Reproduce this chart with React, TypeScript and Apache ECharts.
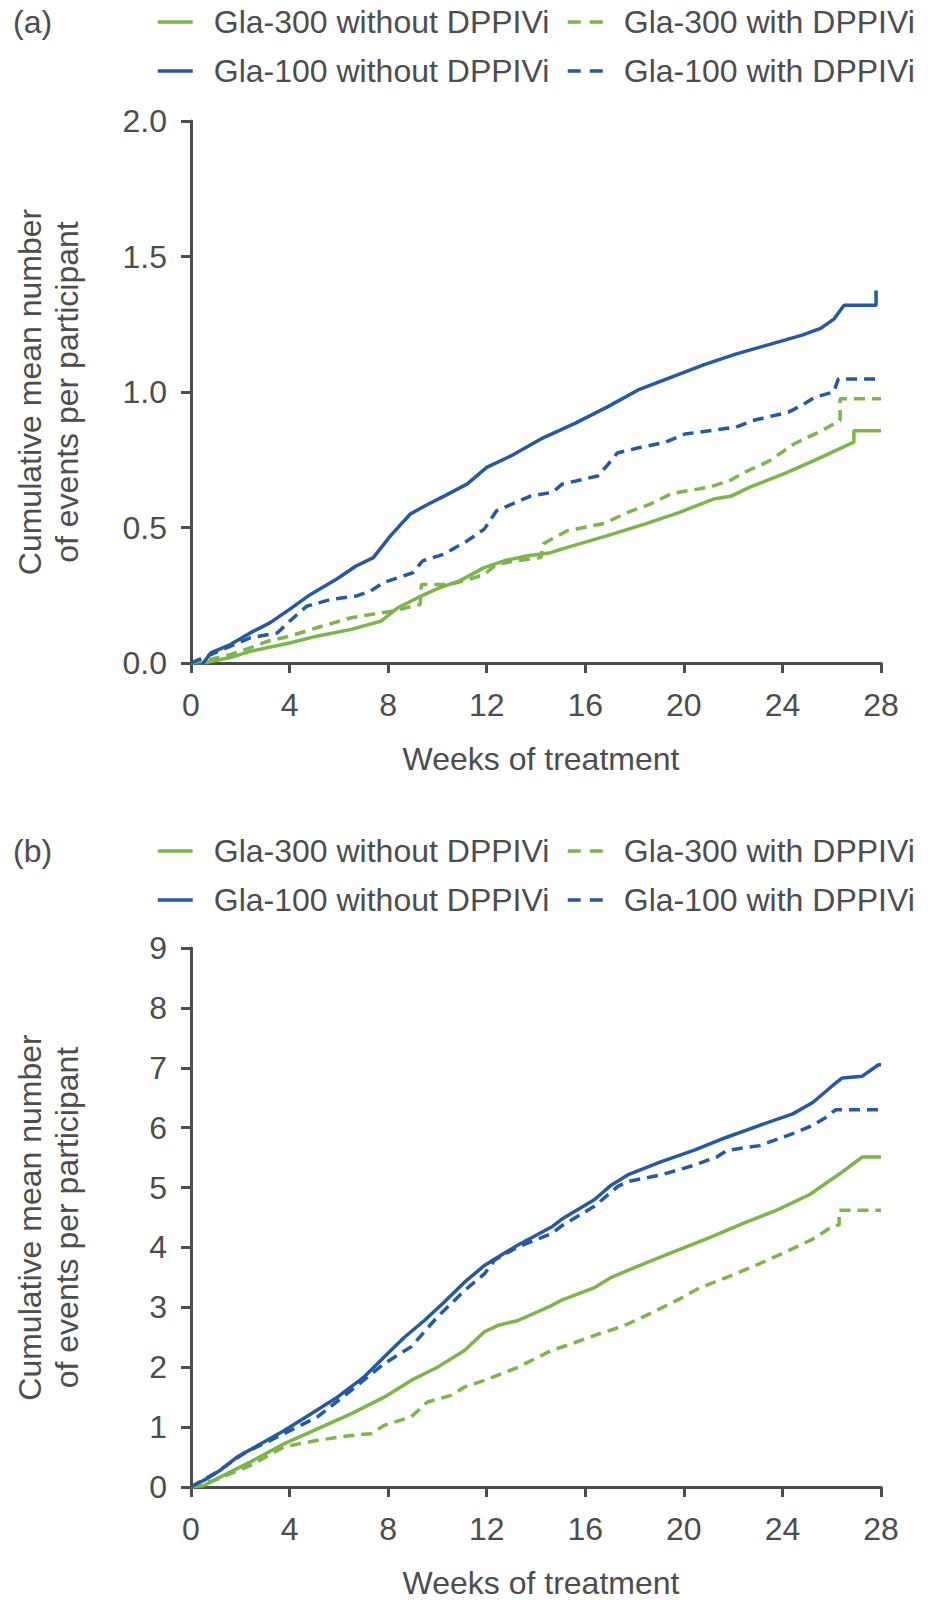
import React, { useEffect, useRef } from "react";
import * as echarts from "echarts";

// ---------- data ----------
const seriesNames = [
  "Gla-300 without DPPIVi",
  "Gla-300 with DPPIVi",
  "Gla-100 without DPPIVi",
  "Gla-100 with DPPIVi",
];

const weekTicks = [0, 4, 8, 12, 16, 20, 24, 28];
const yTicksA = [0, 0.5, 1.0, 1.5, 2.0];
const yTicksB = [0, 1, 2, 3, 4, 5, 6, 7, 8, 9];

// panel (a)
const aGla300Without: [number, number][] = [
  [0, 0], [0.5, 0], [1.6, 0.02], [2.4, 0.043], [4.0, 0.074], [5.1, 0.099], [6.5, 0.124],
  [7.7, 0.154], [8.4, 0.204], [9.2, 0.241], [10.1, 0.278], [10.9, 0.303], [11.9, 0.352],
  [12.7, 0.377], [13.6, 0.395], [14.6, 0.407], [15.2, 0.425], [16.9, 0.47], [18.5, 0.515],
  [19.8, 0.555], [21.2, 0.605], [21.9, 0.615], [22.7, 0.65], [24.1, 0.7], [25.3, 0.748],
  [26.9, 0.815], [26.9, 0.857], [28, 0.857],
];
const aGla300With: [number, number][] = [
  [0, 0], [0.4, 0.006], [1.6, 0.031], [2.4, 0.056], [3.1, 0.08], [4.0, 0.099], [5.1, 0.13],
  [6.5, 0.167], [7.3, 0.179], [8.1, 0.19], [9.3, 0.216], [9.35, 0.29], [10.5, 0.29],
  [11.3, 0.309], [11.9, 0.327], [12.4, 0.364], [13.2, 0.377], [14.2, 0.389], [14.3, 0.44],
  [15.26, 0.488], [16.77, 0.515], [17.7, 0.555], [18.6, 0.585], [19.5, 0.625], [21.08, 0.65],
  [21.9, 0.675], [22.5, 0.705], [23.45, 0.745], [24.1, 0.785], [24.5, 0.81], [25.55, 0.855],
  [26.34, 0.895], [26.34, 0.975], [28, 0.975],
];
const aGla100Without: [number, number][] = [
  [0, 0], [0.5, 0], [0.8, 0.037], [1.6, 0.068], [2.4, 0.111], [3.2, 0.148], [4.0, 0.198],
  [4.85, 0.253], [5.9, 0.309], [6.7, 0.358], [7.4, 0.389], [8.1, 0.47], [8.9, 0.55],
  [9.6, 0.585], [10.25, 0.615], [11.2, 0.66], [12.0, 0.722], [13.0, 0.765], [14.27, 0.83],
  [15.6, 0.885], [16.9, 0.945], [18.2, 1.01], [19.5, 1.055], [20.8, 1.1], [22.1, 1.14],
  [23.45, 1.175], [24.8, 1.21], [25.55, 1.235], [26.1, 1.27], [26.5, 1.32], [27.8, 1.32],
  [27.8, 1.375],
];
const aGla100With: [number, number][] = [
  [0, 0], [0.8, 0.031], [2.4, 0.093], [3.5, 0.111], [4.0, 0.154], [4.7, 0.21], [5.7, 0.235],
  [6.7, 0.247], [7.3, 0.266], [7.8, 0.296], [9.0, 0.333], [9.4, 0.377], [10.25, 0.401],
  [11.2, 0.45], [11.9, 0.494], [12.4, 0.562], [13.2, 0.593], [13.75, 0.615], [14.67, 0.63],
  [15.06, 0.66], [16.5, 0.69], [16.9, 0.73], [17.3, 0.775], [18.2, 0.795], [19.26, 0.815],
  [20.05, 0.845], [22.1, 0.87], [22.8, 0.895], [24.23, 0.925], [24.77, 0.95], [25.3, 0.98],
  [26.08, 1.0], [26.27, 1.048], [28, 1.048],
];

// panel (b)
const bGla300Without: [number, number][] = [
  [0, 0], [0.5, 0.02], [1.06, 0.14], [2.42, 0.42], [3.77, 0.72], [5.13, 0.97], [6.49, 1.22],
  [7.84, 1.5], [8.93, 1.78], [10.0, 2.0], [11.1, 2.28], [11.9, 2.59], [12.46, 2.7],
  [13.27, 2.78], [14.63, 3.03], [15.04, 3.12], [16.38, 3.33], [17.05, 3.5], [18.39, 3.73],
  [19.73, 3.95], [21.07, 4.17], [22.41, 4.4], [23.75, 4.62], [25.09, 4.88], [26.43, 5.26],
  [27.24, 5.51], [28, 5.51],
];
const bGla300With: [number, number][] = [
  [0, 0], [1.0, 0.12], [2.42, 0.36], [3.77, 0.67], [5.13, 0.78], [6.49, 0.86], [7.3, 0.89],
  [7.84, 1.03], [8.93, 1.17], [9.6, 1.42], [10.56, 1.53], [11.1, 1.67], [11.91, 1.78],
  [13.27, 2.0], [14.63, 2.28], [15.5, 2.4], [16.5, 2.55], [17.5, 2.68], [18.5, 2.87],
  [19.73, 3.12], [20.67, 3.33], [21.74, 3.5], [23.08, 3.73], [24.42, 3.98], [25.23, 4.14],
  [26.03, 4.35], [26.3, 4.38], [26.3, 4.62], [28, 4.62],
];
const bGla100Without: [number, number][] = [
  [0, 0], [0.65, 0.14], [1.19, 0.28], [1.87, 0.5], [2.69, 0.69], [3.77, 0.94], [4.86, 1.22],
  [5.94, 1.5], [7.03, 1.84], [7.84, 2.17], [8.66, 2.5], [9.47, 2.78], [10.28, 3.09],
  [11.1, 3.42], [11.91, 3.7], [12.46, 3.84], [13.27, 4.04], [14.63, 4.34], [15.04, 4.47],
  [16.38, 4.8], [17.05, 5.04], [17.72, 5.21], [19.06, 5.43], [20.4, 5.62], [21.74, 5.84],
  [23.08, 6.04], [24.42, 6.23], [25.23, 6.42], [26.03, 6.7], [26.43, 6.83], [27.24, 6.86],
  [27.9, 7.05], [28, 7.05],
];
const bGla100With: [number, number][] = [
  [0, 0], [1.06, 0.25], [2.14, 0.56], [3.77, 0.89], [5.13, 1.17], [6.49, 1.61], [7.84, 2.06],
  [8.93, 2.34], [10.0, 2.84], [11.1, 3.28], [11.91, 3.56], [12.32, 3.79], [13.27, 4.01],
  [14.63, 4.23], [15.04, 4.36], [16.38, 4.69], [17.32, 5.02], [17.72, 5.1], [19.06, 5.21],
  [20.4, 5.37], [21.34, 5.51], [21.74, 5.62], [23.08, 5.7], [24.42, 5.9], [25.23, 6.04],
  [25.76, 6.17], [26.17, 6.3], [28, 6.3],
];

// ---------- styles ----------
const GREEN = "#7ab648";
const BLUE = "#2359a5";
const TEXT = "#4d4d4d";
const FONT = "'Liberation Sans', Arial, sans-serif";
const DASH = [11, 7];
const LEGEND_DASH = [13, 9];
const FS = 32;

export default function App() {
  const ref = useRef<HTMLDivElement>(null);

  useEffect(() => {
    if (!ref.current) return;
    const chart = echarts.init(ref.current, null, { renderer: "svg" });

    const panels = [
      { data: [aGla300Without, aGla300With, aGla100Without, aGla100With], ticks: yTicksA },
      { data: [bGla300Without, bGla300With, bGla100Without, bGla100With], ticks: yTicksB },
    ];
    const colors = [GREEN, GREEN, BLUE, BLUE];
    const dashed = [false, true, false, true];

    const grids = [
      { left: 191, top: 121, width: 690, height: 542 },
      { left: 191, top: 948, width: 690, height: 540 },
    ];

    const axisLine = { show: true, lineStyle: { color: TEXT, width: 3 } };
    const axisTick = { show: true, length: 10, lineStyle: { color: TEXT, width: 3 } };

    const xAxis = grids.map((_, i) => ({
      type: "value",
      gridIndex: i,
      min: weekTicks[0],
      max: weekTicks[weekTicks.length - 1],
      interval: weekTicks[1] - weekTicks[0],
      axisLine,
      axisTick,
      splitLine: { show: false },
      axisLabel: { fontSize: FS, color: TEXT, fontFamily: FONT, margin: 26 },
      name: "Weeks of treatment",
      nameLocation: "middle",
      nameGap: 80,
      nameTextStyle: { fontSize: FS, color: TEXT, fontFamily: FONT, padding: [0, 0, 0, 10] },
    }));

    const yAxis = panels.map((p, i) => ({
      type: "value",
      gridIndex: i,
      min: p.ticks[0],
      max: p.ticks[p.ticks.length - 1],
      interval: p.ticks[1] - p.ticks[0],
      axisLine,
      axisTick,
      splitLine: { show: false },
      axisLabel: {
        fontSize: FS,
        color: TEXT,
        fontFamily: FONT,
        margin: 24,
        formatter: (v: number) => (i === 0 ? v.toFixed(1) : String(v)),
      },
      name: "Cumulative mean number\nof events per participant",
      nameLocation: "middle",
      nameRotate: 90,
      nameGap: 106,
      nameTextStyle: { fontSize: FS, color: TEXT, fontFamily: FONT, lineHeight: 37, align: "center" },
    }));

    const series: any[] = [];
    panels.forEach((p, gi) => {
      p.data.forEach((d, si) => {
        series.push({
          type: "line",
          name: seriesNames[si],
          xAxisIndex: gi,
          yAxisIndex: gi,
          data: d,
          showSymbol: false,
          symbol: "none",
          lineStyle: { color: colors[si], width: 3.5, type: dashed[si] ? DASH : "solid" },
          itemStyle: { color: colors[si] },
          z: dashed[si] ? 3 : 2,
        });
      });
    });

    const legendTops = [[1, 50], [830, 879]];
    const legends: any[] = [];
    legendTops.forEach((rows) => {
      rows.forEach((top, r) => {
        [0, 1].forEach((c) => {
          const si = r * 2 + c;
          legends.push({
            show: true,
            left: c === 0 ? 151 : 561,
            top,
            itemWidth: 35,
            itemHeight: 14,
            selectedMode: false,
            data: [seriesNames[si]],
            itemStyle: { opacity: 0 },
            lineStyle: { width: 3.5, type: dashed[si] ? LEGEND_DASH : "solid" },
            textStyle: { fontSize: FS, color: TEXT, fontFamily: FONT, padding: [0, 0, 0, 16] },
          });
        });
      });
    });

    const titleStyle = { fontSize: FS, fontWeight: "normal", color: TEXT, fontFamily: FONT };

    chart.setOption({
      animation: false,
      backgroundColor: "#ffffff",
      textStyle: { fontFamily: FONT },
      title: [
        { text: "(a)", left: 8, top: 1, textStyle: titleStyle },
        { text: "(b)", left: 8, top: 830, textStyle: titleStyle },
      ],
      legend: legends,
      grid: grids,
      xAxis,
      yAxis,
      series,
    });

    return () => chart.dispose();
  }, []);

  return (
    <div
      ref={ref}
      style={{ position: "absolute", left: 0, top: 0, width: 928, height: 1600, background: "#fff" }}
    />
  );
}
